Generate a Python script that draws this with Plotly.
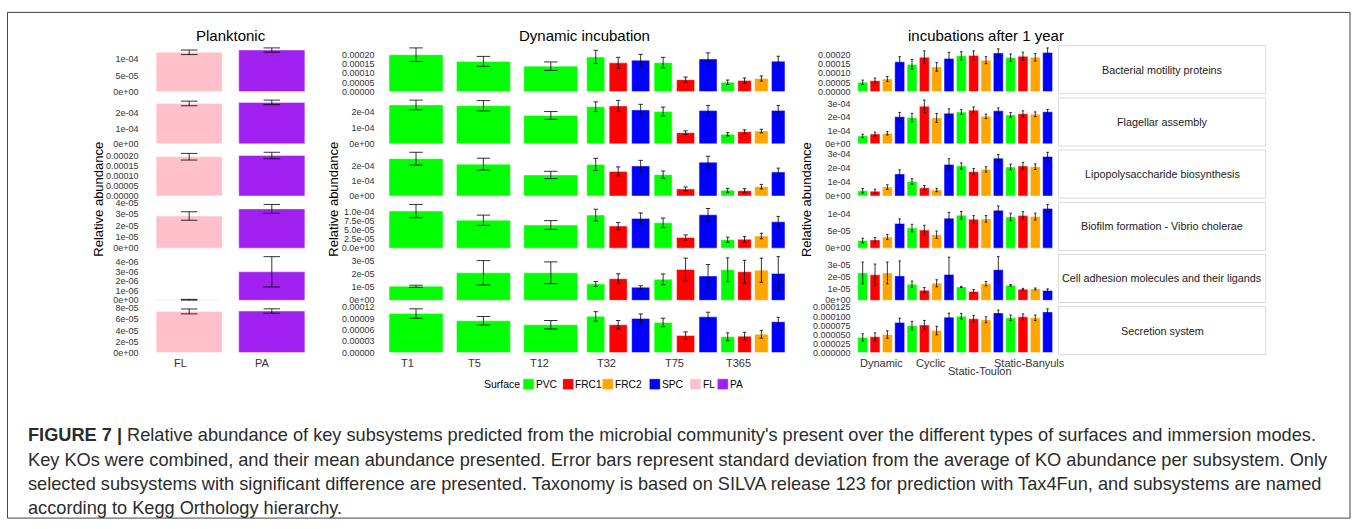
import plotly.graph_objects as go

W, H = 1357, 529

# ---------------- data ----------------
SUBSYSTEMS = ["Bacterial motility proteins", "Flagellar assembly",
              "Lipopolysaccharide biosynthesis", "Biofilm formation - Vibrio cholerae",
              "Cell adhesion molecules and their ligands", "Secretion system"]

SURFACES = ["PVC", "FRC1", "FRC2", "SPC", "FL", "PA"]
SURFACE_COLORS = ["#00FF00", "#FF0000", "#FFA500", "#0000FF", "#FFC0CB", "#A020F0"]

# Planktonic
PLANK_CATS = ["FL", "PA"]
PLANK_SURF = [["FL"], ["PA"]]
plank_mean = [
    [1.21e-4, 1.28e-4],
    [2.64e-4, 2.71e-4],
    [1.95e-4, 2.01e-4],
    [2.84e-5, 3.47e-5],
    [6e-8, 2.97e-6],
    [7.43e-5, 7.50e-5],
]
plank_sd = [
    [0.07e-4, 0.065e-4],
    [0.15e-4, 0.15e-4],
    [0.165e-4, 0.16e-4],
    [0.375e-5, 0.39e-5],
    [4e-8, 1.58e-6],
    [0.44e-5, 0.40e-5],
]

# Dynamic incubation (bars in order of DYN_SURF)
DYN_CATS = ["T1", "T5", "T12", "T32", "T75", "T365"]
DYN_SURF = [["PVC"], ["PVC"], ["PVC"], ["PVC", "FRC1", "SPC"], ["PVC", "FRC1", "SPC"],
            ["PVC", "FRC1", "FRC2", "SPC"]]
dyn_mean = [
    [2.00e-4, 1.64e-4, 1.38e-4, 1.88e-4, 1.56e-4, 1.70e-4, 1.57e-4, 0.65e-4, 1.77e-4, 0.51e-4, 0.60e-4, 0.71e-4, 1.65e-4],
    [2.41e-4, 2.36e-4, 1.76e-4, 2.30e-4, 2.35e-4, 2.10e-4, 2.00e-4, 0.69e-4, 2.06e-4, 0.59e-4, 0.75e-4, 0.79e-4, 2.07e-4],
    [2.45e-4, 2.09e-4, 1.38e-4, 2.07e-4, 1.61e-4, 1.97e-4, 1.40e-4, 0.46e-4, 2.22e-4, 0.37e-4, 0.35e-4, 0.61e-4, 1.57e-4],
    [1.01e-4, 0.76e-4, 0.63e-4, 0.90e-4, 0.60e-4, 0.81e-4, 0.69e-4, 0.29e-4, 0.91e-4, 0.23e-4, 0.24e-4, 0.33e-4, 0.72e-4],
    [1.07e-5, 2.10e-5, 2.10e-5, 1.25e-5, 1.65e-5, 1.00e-5, 1.60e-5, 2.35e-5, 1.85e-5, 2.33e-5, 2.18e-5, 2.30e-5, 2.05e-5],
    [10.35e-5, 8.43e-5, 7.38e-5, 9.60e-5, 7.38e-5, 9.03e-5, 7.98e-5, 4.51e-5, 9.47e-5, 4.17e-5, 4.33e-5, 4.85e-5, 8.17e-5],
]
dyn_sd = [
    [0.37e-4, 0.27e-4, 0.23e-4, 0.36e-4, 0.30e-4, 0.32e-4, 0.29e-4, 0.14e-4, 0.33e-4, 0.12e-4, 0.14e-4, 0.14e-4, 0.27e-4],
    [0.30e-4, 0.32e-4, 0.24e-4, 0.30e-4, 0.34e-4, 0.35e-4, 0.28e-4, 0.11e-4, 0.32e-4, 0.10e-4, 0.12e-4, 0.11e-4, 0.31e-4],
    [0.42e-4, 0.39e-4, 0.24e-4, 0.40e-4, 0.30e-4, 0.37e-4, 0.24e-4, 0.13e-4, 0.39e-4, 0.13e-4, 0.13e-4, 0.15e-4, 0.26e-4],
    [0.18e-4, 0.14e-4, 0.12e-4, 0.16e-4, 0.10e-4, 0.15e-4, 0.13e-4, 0.07e-4, 0.17e-4, 0.07e-4, 0.075e-4, 0.075e-4, 0.145e-4],
    [0.08e-5, 0.93e-5, 0.83e-5, 0.18e-5, 0.37e-5, 0.12e-5, 0.41e-5, 0.87e-5, 0.88e-5, 0.91e-5, 0.87e-5, 0.92e-5, 1.28e-5],
    [1.25e-5, 1.13e-5, 1.12e-5, 1.25e-5, 1.12e-5, 1.20e-5, 1.13e-5, 0.97e-5, 1.23e-5, 1.04e-5, 1.04e-5, 1.04e-5, 1.17e-5],
]

# Incubations after 1 year
INC_CATS = ["Dynamic", "Cyclic", "Static-Toulon", "Static-Banyuls"]
INC_SURF = [["PVC", "FRC1", "FRC2", "SPC"]] * 4
inc_mean = [
    [0.51e-4, 0.60e-4, 0.69e-4, 1.63e-4, 1.49e-4, 1.88e-4, 1.35e-4, 1.81e-4, 1.96e-4, 1.98e-4, 1.72e-4, 2.11e-4, 1.86e-4, 1.93e-4, 1.88e-4, 2.14e-4],
    [0.59e-4, 0.73e-4, 0.78e-4, 2.02e-4, 1.95e-4, 2.80e-4, 1.93e-4, 2.27e-4, 2.37e-4, 2.51e-4, 2.05e-4, 2.46e-4, 2.15e-4, 2.24e-4, 2.20e-4, 2.39e-4],
    [0.37e-4, 0.33e-4, 0.63e-4, 1.56e-4, 1.02e-4, 0.58e-4, 0.42e-4, 2.23e-4, 2.12e-4, 1.72e-4, 1.88e-4, 2.67e-4, 2.05e-4, 2.12e-4, 2.07e-4, 2.79e-4],
    [2.19e-5, 2.38e-5, 3.24e-5, 7.14e-5, 5.81e-5, 5.24e-5, 3.90e-5, 8.67e-5, 9.52e-5, 8.38e-5, 8.48e-5, 10.95e-5, 9.05e-5, 9.43e-5, 9.14e-5, 11.52e-5],
    [2.29e-5, 2.13e-5, 2.29e-5, 2.04e-5, 1.34e-5, 0.84e-5, 1.42e-5, 2.15e-5, 1.12e-5, 0.74e-5, 1.39e-5, 2.56e-5, 1.25e-5, 0.93e-5, 0.95e-5, 0.82e-5],
    [4.17e-5, 4.35e-5, 4.98e-5, 8.33e-5, 7.43e-5, 7.61e-5, 6.07e-5, 9.78e-5, 10.05e-5, 9.33e-5, 9.06e-5, 10.96e-5, 9.60e-5, 9.87e-5, 9.60e-5, 11.23e-5],
]
inc_sd = [
    [0.12e-4, 0.14e-4, 0.14e-4, 0.28e-4, 0.27e-4, 0.35e-4, 0.24e-4, 0.34e-4, 0.22e-4, 0.25e-4, 0.19e-4, 0.23e-4, 0.20e-4, 0.23e-4, 0.21e-4, 0.25e-4],
    [0.12e-4, 0.15e-4, 0.13e-4, 0.32e-4, 0.32e-4, 0.46e-4, 0.33e-4, 0.34e-4, 0.18e-4, 0.24e-4, 0.17e-4, 0.22e-4, 0.18e-4, 0.22e-4, 0.18e-4, 0.17e-4],
    [0.16e-4, 0.15e-4, 0.16e-4, 0.29e-4, 0.20e-4, 0.16e-4, 0.12e-4, 0.40e-4, 0.22e-4, 0.22e-4, 0.19e-4, 0.27e-4, 0.20e-4, 0.26e-4, 0.20e-4, 0.30e-4],
    [0.67e-5, 0.67e-5, 0.76e-5, 1.33e-5, 1.10e-5, 1.38e-5, 1.05e-5, 1.71e-5, 1.10e-5, 1.05e-5, 0.95e-5, 1.29e-5, 1.10e-5, 1.14e-5, 1.00e-5, 1.14e-5],
    [0.91e-5, 0.90e-5, 0.91e-5, 1.25e-5, 0.27e-5, 0.23e-5, 0.30e-5, 1.46e-5, 0.05e-5, 0.16e-5, 0.19e-5, 1.09e-5, 0.07e-5, 0.07e-5, 0.08e-5, 0.14e-5],
    [1.00e-5, 1.09e-5, 1.04e-5, 1.18e-5, 1.18e-5, 1.27e-5, 1.18e-5, 1.13e-5, 0.77e-5, 0.95e-5, 0.82e-5, 0.77e-5, 0.77e-5, 0.82e-5, 0.77e-5, 0.86e-5],
]

# y tick values and label formats per panel (rows x columns)
PLANK_TICKS = [[0, 5e-5, 1e-4], [0, 1e-4, 2e-4], [0, 5e-5, 1e-4, 1.5e-4, 2e-4],
               [0, 1e-5, 2e-5, 3e-5, 4e-5], [0, 1e-6, 2e-6, 3e-6, 4e-6], [0, 2e-5, 4e-5, 6e-5, 8e-5]]
PLANK_FMT = [".0e", ".0e", ".5f", ".0e", ".0e", ".0e"]
DYN_TICKS = [[0, 5e-5, 1e-4, 1.5e-4, 2e-4], [0, 1e-4, 2e-4], [0, 1e-4, 2e-4],
             [0, 2.5e-5, 5e-5, 7.5e-5, 1e-4], [0, 1e-5, 2e-5, 3e-5], [0, 3e-5, 6e-5, 9e-5, 1.2e-4]]
DYN_FMT = [".5f", ".0e", ".0e", ".1e", ".0e", ".5f"]
INC_TICKS = [[0, 5e-5, 1e-4, 1.5e-4, 2e-4], [0, 1e-4, 2e-4, 3e-4], [0, 1e-4, 2e-4, 3e-4],
             [0, 5e-5, 1e-4], [0, 1e-5, 2e-5, 3e-5], [0, 2.5e-5, 5e-5, 7.5e-5, 1e-4, 1.25e-4]]
INC_FMT = [".5f", ".0e", ".0e", ".0e", ".0e", ".6f"]

TITLES = ["Planktonic", "Dynamic incubation", "incubations after 1 year"]

CAPTION_LINES = [
    "<b>FIGURE 7 |</b> Relative abundance of key subsystems predicted from the microbial community's present over the different types of surfaces and immersion modes.",
    "Key KOs were combined, and their mean abundance presented. Error bars represent standard deviation from the average of KO abundance per subsystem. Only",
    "selected subsystems with significant difference are presented. Taxonomy is based on SILVA release 123 for prediction with Tax4Fun, and subsystems are named",
    "according to Kegg Orthology hierarchy.",
]

# ---------------- layout constants (pixels) ----------------
COL_X = [(139.6, 321.4), (375.6, 793.4), (851.6, 1058.7)]
ROW_TOP0, ROW_PITCH, ROW_H = 42.3, 52.88, 48.7
STRIP_X = (1058.3, 1265.7)
FONT = "Liberation Sans, Arial, sans-serif"
color_of = dict(zip(SURFACES, SURFACE_COLORS))


def fx(px):
    return px / W


def fy(py):
    return 1 - py / H


columns = [
    dict(cats=PLANK_CATS, surf=PLANK_SURF, mean=plank_mean, sd=plank_sd, ticks=PLANK_TICKS, fmt=PLANK_FMT, xanchor="right"),
    dict(cats=DYN_CATS, surf=DYN_SURF, mean=dyn_mean, sd=dyn_sd, ticks=DYN_TICKS, fmt=DYN_FMT, xanchor="right"),
    dict(cats=INC_CATS, surf=INC_SURF, mean=inc_mean, sd=inc_sd, ticks=INC_TICKS, fmt=INC_FMT, xanchor="center"),
]

fig = go.Figure()
layout = dict(width=W, height=H, margin=dict(l=0, r=0, t=0, b=0), paper_bgcolor="white",
              plot_bgcolor="white", barmode="overlay", showlegend=False,
              font=dict(family=FONT, color="#1a1a1a"))
annotations = []
shapes = []

for c, col in enumerate(columns):
    x0, x1 = COL_X[c]
    ncat = len(col["cats"])
    spacing = (x1 - x0) / (ncat + 0.2)
    for r in range(6):
        k = r * 3 + c + 1
        top = ROW_TOP0 + r * ROW_PITCH
        bot = top + ROW_H
        means, sds = col["mean"][r], col["sd"][r]
        groups = {}
        idx = 0
        for i, surfs in enumerate(col["surf"]):
            n = len(surfs)
            for j, s in enumerate(surfs):
                g = groups.setdefault(n, dict(x=[], y=[], e=[], c=[], w=[]))
                g["x"].append(i + 1 + (j - (n - 1) / 2) / n)
                g["y"].append(means[idx])
                g["e"].append(sds[idx])
                g["c"].append(color_of[s])
                g["w"].append(0.8 / n)
                idx += 1
        for n, g in groups.items():
            fig.add_trace(go.Bar(
                x=g["x"], y=g["y"], width=g["w"], xaxis=f"x{k}", yaxis=f"y{k}",
                marker=dict(color=g["c"], line=dict(color="rgba(255,255,255,0.55)", width=0.8)),
                error_y=dict(type="data", array=g["e"], visible=True, color="rgba(0,0,0,0.8)",
                             thickness=1, width=0.1 / n * spacing),
                hoverinfo="skip"))
        hi = max(m + s for m, s in zip(means, sds))
        tv = col["ticks"][r]
        layout[f"xaxis{k}"] = dict(domain=[fx(x0), fx(x1)], anchor=f"y{k}", range=[0.4, ncat + 0.6],
                                   showticklabels=False, showgrid=False, zeroline=False,
                                   showline=False, ticks="", fixedrange=True)
        layout[f"yaxis{k}"] = dict(domain=[fy(bot), fy(top)], anchor=f"x{k}",
                                   range=[-0.05 * hi, 1.05 * hi], tickvals=tv,
                                   ticktext=[format(v, col["fmt"][r]) for v in tv],
                                   tickfont=dict(size=9, color="#333333", family=FONT),
                                   showgrid=False, zeroline=False, showline=False, ticks="",
                                   fixedrange=True)
        if r == 5:
            for i, cat in enumerate(col["cats"]):
                dy = 8 if (c == 2 and i == 2) else 0
                annotations.append(dict(x=i + 1, xref=f"x{k}", y=fy(363.5 + dy), yref="paper",
                                        text=cat, showarrow=False, xanchor=col["xanchor"],
                                        yanchor="middle", font=dict(size=11, color="#333333")))
    tx = [230.5, 584.5, 985.5][c]
    annotations.append(dict(x=fx(tx), y=fy(32), xref="paper", yref="paper", text=TITLES[c],
                            showarrow=False, xanchor="center", yanchor="middle",
                            font=dict(size=15, color="#000000")))
    ax = [98.3, 333.3, 806.7][c]
    annotations.append(dict(x=fx(ax), y=fy(198), xref="paper", yref="paper",
                            text="Relative abundance", textangle=-90, showarrow=False,
                            xanchor="center", yanchor="middle",
                            font=dict(size=13, color="#000000")))

# strips
for r, name in enumerate(SUBSYSTEMS):
    top = ROW_TOP0 + r * ROW_PITCH
    bot = top + ROW_H
    shapes.append(dict(type="rect", xref="paper", yref="paper", x0=fx(STRIP_X[0]), x1=fx(STRIP_X[1]),
                       y0=fy(bot), y1=fy(top), line=dict(color="#d9d9d9", width=1),
                       fillcolor="white"))
    annotations.append(dict(x=fx((STRIP_X[0] + STRIP_X[1]) / 2), y=fy((top + bot) / 2),
                            xref="paper", yref="paper", text=name, showarrow=False,
                            xanchor="center", yanchor="middle",
                            font=dict(size=10.8, color="#1a1a1a")))

# legend
LEG_Y = 385.3
LEG_SQ_X = [523, 562.7, 602.3, 649.3, 690, 717.3]
annotations.append(dict(x=fx(482), y=fy(LEG_Y), xref="paper", yref="paper", text="Surface",
                        showarrow=False, xanchor="left", yanchor="middle",
                        font=dict(size=10.5, color="#000000")))
for s, colr, sx in zip(SURFACES, SURFACE_COLORS, LEG_SQ_X):
    shapes.append(dict(type="rect", xref="paper", yref="paper", x0=fx(sx), x1=fx(sx + 11),
                       y0=fy(LEG_Y + 5.5), y1=fy(LEG_Y - 5.5), line=dict(color="white", width=0.5),
                       fillcolor=colr))
    annotations.append(dict(x=fx(sx + 10.5), y=fy(LEG_Y), xref="paper", yref="paper", text=s,
                            showarrow=False, xanchor="left", yanchor="middle",
                            font=dict(size=10.2, color="#000000")))

# frame
shapes.append(dict(type="rect", xref="paper", yref="paper", x0=fx(7.5), x1=fx(1350), y0=fy(521),
                   y1=fy(8.5), line=dict(color="#444444", width=1), fillcolor="rgba(0,0,0,0)",
                   layer="below"))

# caption, one annotation per line
CAP_Y = [437, 462, 486.5, 511]
for line, cy in zip(CAPTION_LINES, CAP_Y):
    annotations.append(dict(x=fx(26), y=fy(cy), xref="paper", yref="paper", text=line,
                            showarrow=False, xanchor="left", yanchor="middle", align="left",
                            font=dict(size=18.2, color="#2b2b2b", family=FONT)))

layout["annotations"] = annotations
layout["shapes"] = shapes
fig.update_layout(**layout)

fig.write_html("out.html", config={"displayModeBar": False},
               post_script="document.body.style.margin='0';")
